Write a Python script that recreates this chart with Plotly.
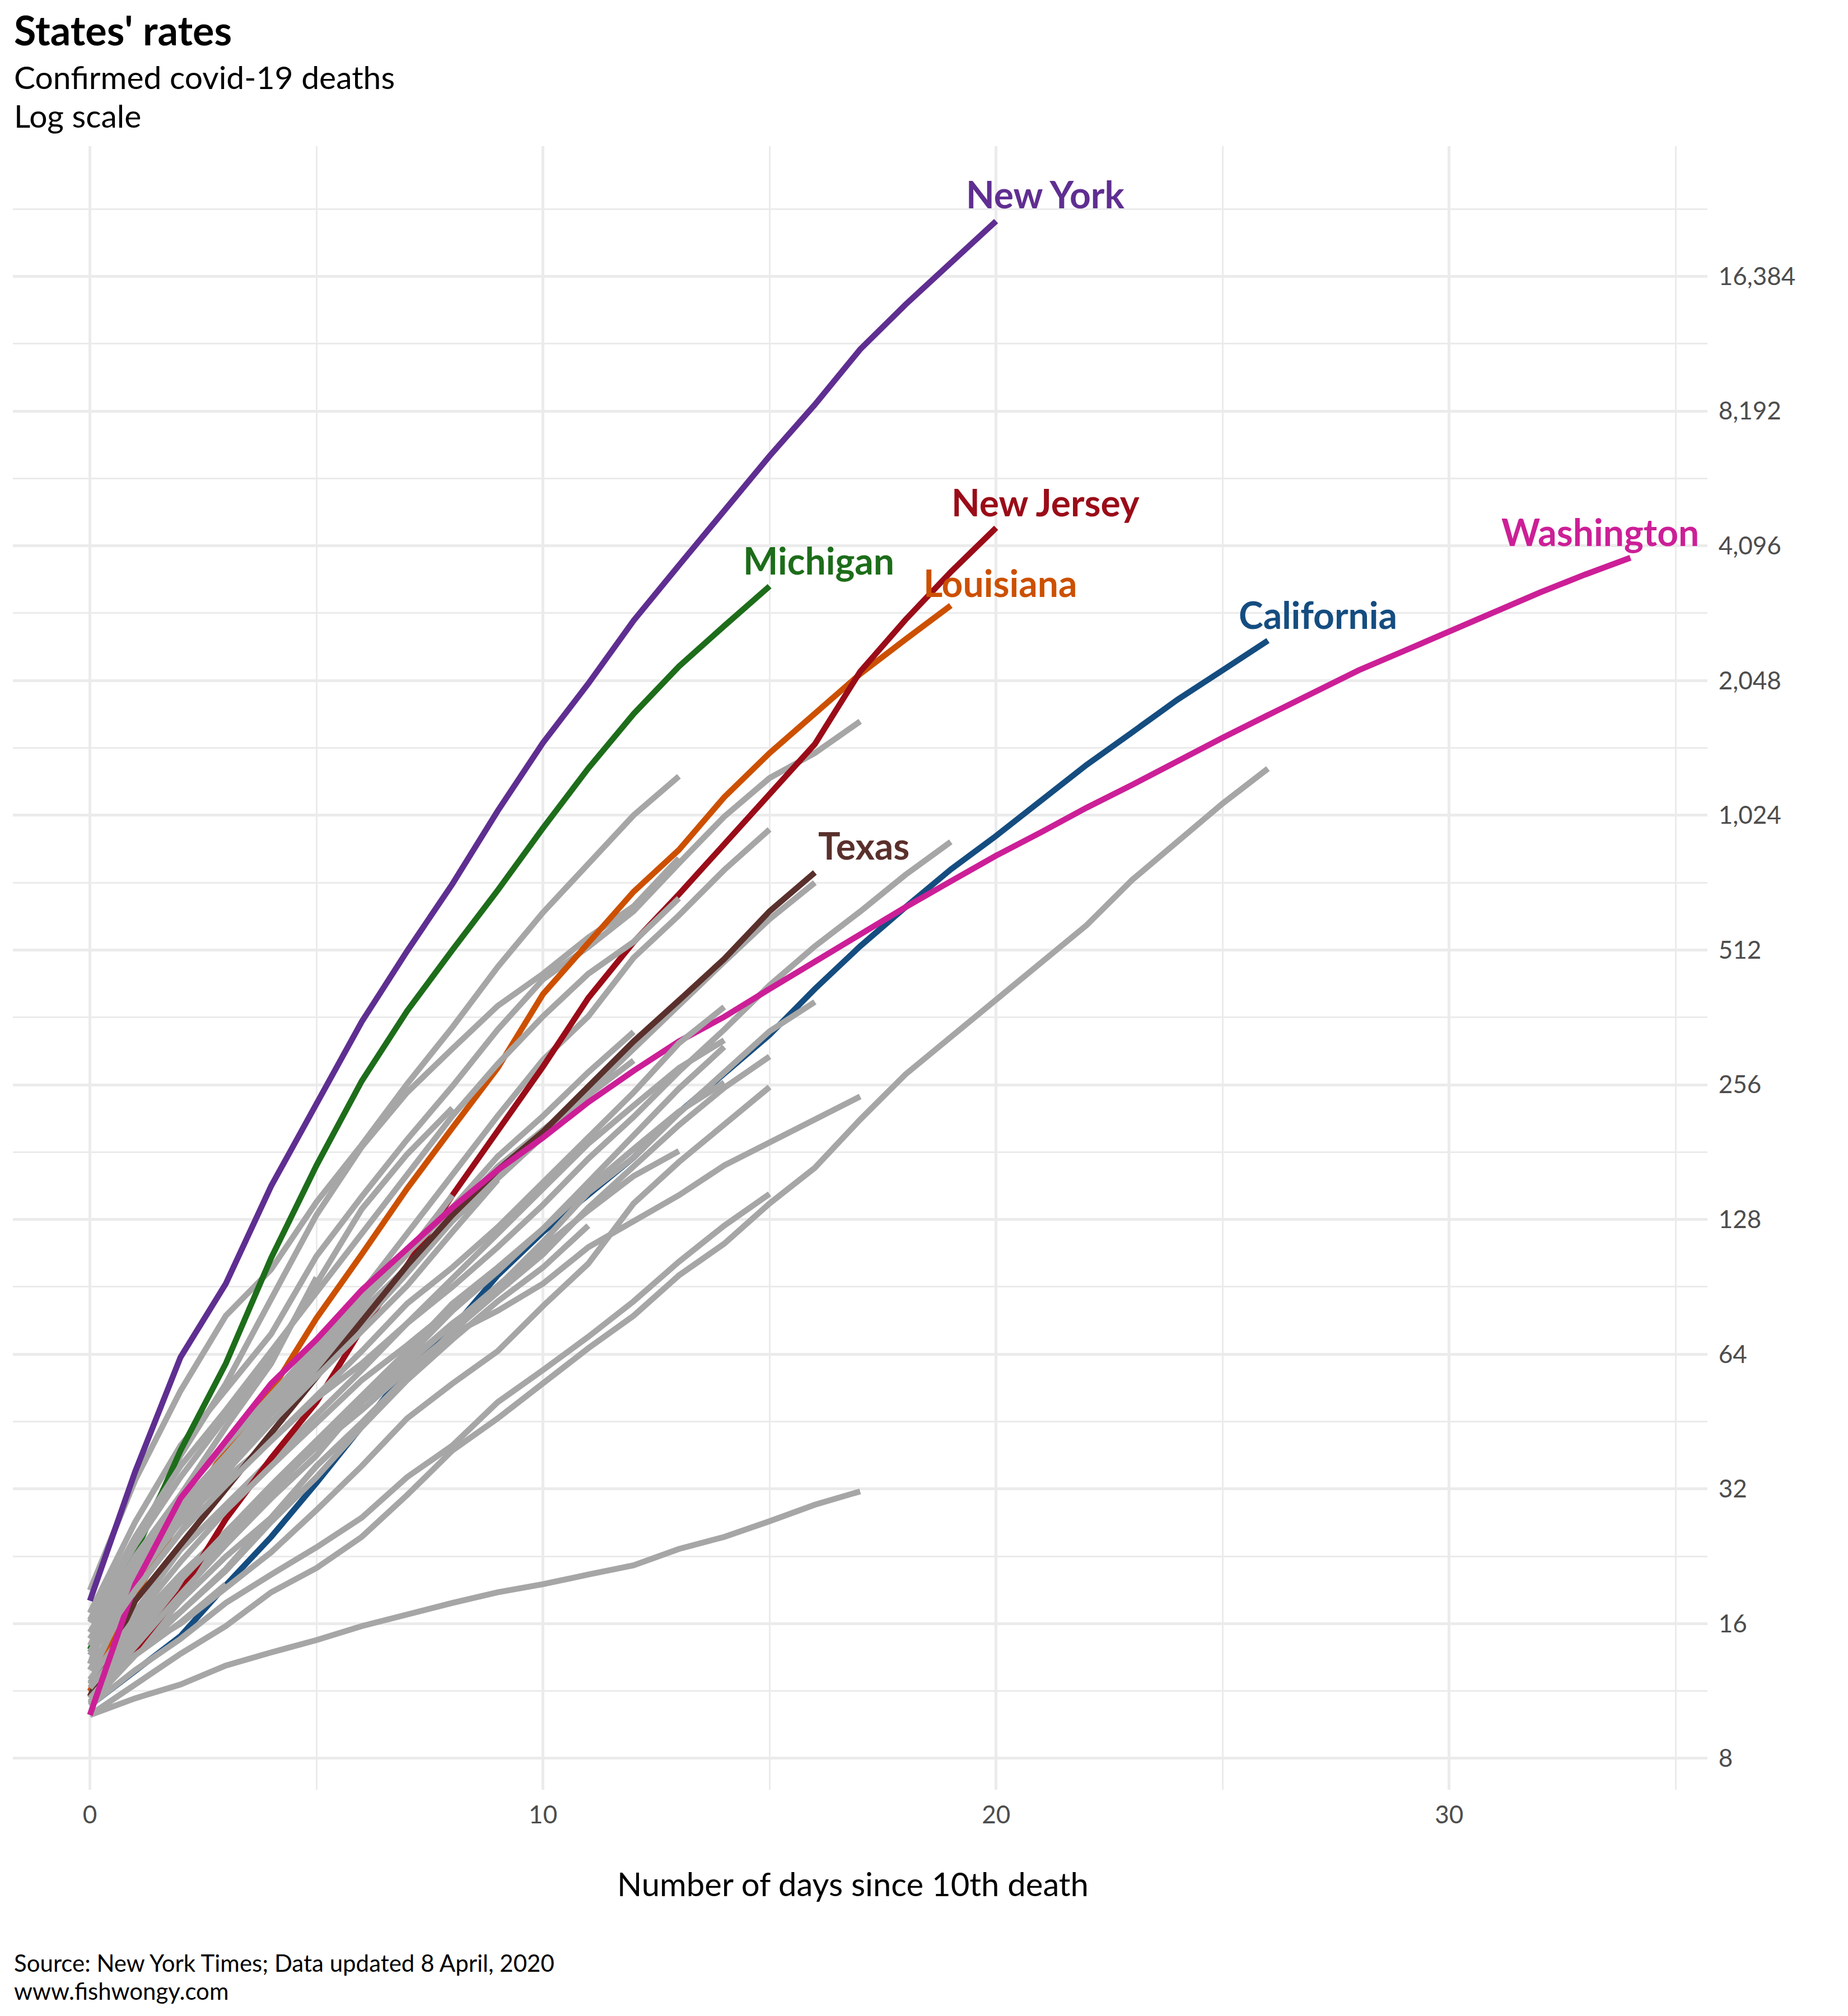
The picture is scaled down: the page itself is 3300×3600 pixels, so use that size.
import math
import plotly.graph_objects as go

# Deaths by day since the 10th death
california = [10.5, 12.5, 15, 19.5, 25, 33, 44, 59, 73, 96, 120, 145, 176, 222, 270, 331, 419, 522, 638, 775, 921, 1109, 1328, 1568, 1855, 2159, 2515]
louisiana = [11.3, 18.5, 27.6, 39, 53, 77, 107, 150, 205, 279, 408, 534, 691, 857, 1124, 1410, 1725, 2118, 2531, 3013]
michigan = [14, 23, 39, 61, 105, 169, 261, 374, 512, 696, 959, 1304, 1725, 2202, 2712, 3327]
new_jersey = [11, 14, 18.8, 27.4, 37.5, 50, 73, 101, 145, 201, 281, 400, 533, 682, 880, 1146, 1477, 2144, 2800, 3580, 4493]
new_york = [18, 35, 63, 92, 152, 233, 354, 509, 719, 1047, 1487, 2016, 2788, 3705, 4923, 6500, 8470, 11254, 14165, 17620, 21770]
texas = [11, 18, 24, 32, 42.6, 57, 76, 101, 131, 165, 201, 253, 320, 395, 489, 625, 763]
washington = [10, 19.6, 30.5, 41, 55, 69, 89, 110, 136, 165, 195, 234, 275, 320, 363, 419, 482, 557, 638, 729, 832, 939, 1065, 1197, 1356, 1526, 1714, 1917, 2159, 2384, 2640, 2915, 3221, 3533, 3852]

# The grey states are not labelled on the chart, so they just get letters
grey_a = [10.9, 15.3, 19.7, 25, 31.6, 40, 50, 61, 75, 91, 111, 134, 160, 182]
grey_b = [10.6, 13.6, 17, 21, 27, 34, 44, 56, 69, 84, 100, 124]
grey_c = [10, 11.7, 13.7, 15.8, 18.8, 21.3, 25, 31, 39, 46, 55, 66, 78, 96, 113, 139, 167, 214, 270, 327, 395, 479, 582, 734, 896, 1088, 1302]
grey_d = [10.5, 12.6, 14.8, 17.8, 20.6, 23.7, 27.6, 34, 40, 50, 59, 70, 84, 103, 124, 146]
grey_e = [10, 10.9, 11.7, 12.9, 13.8, 14.7, 15.8, 16.8, 17.8, 18.8, 19.6, 20.6, 21.6, 23.5, 25, 27.1, 29.5, 31.6]
grey_f = [11.7, 15.8, 20.6, 25.8, 32, 39.7, 48, 59, 71, 80, 92, 111, 127, 145, 169, 190, 214, 241]
grey_g = [11.2, 13.9, 16, 19.2, 23.1, 28.7, 36, 46, 55, 65, 82, 102, 139, 172, 209, 253]
grey_h = [11.3, 14.3, 17, 21.2, 27.6, 36, 45, 57, 72, 88, 107, 136, 168, 208, 252, 296]
grey_i = [10.6, 13.8, 18, 22.6, 27.6, 36, 45, 57, 72, 90.5, 114, 147, 176, 221, 272, 337, 392]
grey_j = [11.8, 16.1, 20.6, 25.6, 32.6, 41, 51.5, 65, 83, 100, 122, 151, 184, 223, 259]
grey_k = [11, 14.8, 19, 24, 30.5, 38, 50, 63, 80, 98, 122, 155, 198, 251, 311]
grey_l = [12.6, 17, 23.4, 29.5, 37, 47, 59, 75, 94, 119, 150, 189, 230, 279, 322]
grey_m = [13, 24, 38, 55, 85, 131, 186, 246, 308, 384, 453, 546, 641, 821]
grey_n = [16.9, 27, 40, 53, 71, 106, 144, 193, 254, 340, 440, 520, 625, 800, 1017, 1240, 1410, 1660]
grey_o = [19, 33.5, 53, 78, 99, 140, 188, 257, 344, 469, 621, 801, 1024, 1251]
grey_p = [12.6, 19, 25.6, 36, 48, 65, 88, 119, 162, 218, 291, 364, 492, 612, 773, 952]
grey_q = [16.1, 24, 34, 46, 63, 92, 135, 179, 227]
grey_r = [14.3, 22, 29.5, 38, 50, 65, 83, 107, 145]
grey_s = [16.3, 25, 36, 48, 65, 88, 119, 163, 218, 285, 364, 453, 534, 668]
grey_t = [15.3, 22.6, 31, 40, 51.5, 67, 85, 107, 136, 177, 218, 273, 336]
grey_u = [14.8, 21, 28.6, 37, 48, 61, 78, 100, 131, 168, 203, 243, 290]
grey_v = [13.8, 20.6, 27.6, 36, 47, 59, 75, 97, 127, 160, 198, 246]
grey_w = [15.3, 20.6, 27, 33.8, 41, 51, 61, 75, 90.5, 111, 138, 175, 217, 274, 340, 427, 522, 624, 754, 893]
grey_x = [14.8, 20.6, 28.6, 37, 48, 63, 80, 100, 127, 158, 196, 246, 308, 387, 482, 600, 724]
grey_y = [11.5, 15.3, 20, 25.6, 32.6, 41, 50, 61, 75, 89, 110]
grey_z = [12, 16.5, 22, 28.6, 36, 45, 56, 67, 81, 99]
grey_aa = [13.6, 20, 27, 35, 45, 57, 72, 91, 120, 157]
grey_ab = [10.7, 13.6, 16.1, 19.6]
grey_ac = [10.9, 14.3, 18.6, 24, 30.5, 38]
grey_ad = [13.8, 21, 31, 44, 61, 95]
grey_ae = [13.6, 19, 25.6, 32.6, 41, 51.5, 65, 83, 100, 123, 155, 195, 246, 317, 382]

GREY = "#A6A6A6"
GRID = "#EBEBEB"
TICK_TEXT = "#4D4D4D"
FONT = "Lato"

# Drawn in this order, so later lines sit on top
series = [
    (california, "#154D80"),
    (grey_a, GREY), (grey_b, GREY),
    (grey_c, GREY), (grey_d, GREY), (grey_e, GREY), (grey_f, GREY), (grey_g, GREY),
    (grey_h, GREY), (grey_i, GREY), (grey_j, GREY), (grey_k, GREY), (grey_l, GREY),
    (grey_m, GREY), (grey_n, GREY),
    (louisiana, "#CC5000"),
    (grey_o, GREY),
    (michigan, "#1D6D1A"),
    (grey_p, GREY),
    (new_jersey, "#9A0C18"),
    (new_york, "#5F2E91"),
    (grey_q, GREY), (grey_r, GREY), (grey_s, GREY), (grey_t, GREY), (grey_u, GREY),
    (grey_v, GREY), (grey_w, GREY), (grey_x, GREY),
    (texas, "#5A302C"),
    (grey_y, GREY), (grey_z, GREY), (grey_aa, GREY), (grey_ab, GREY), (grey_ac, GREY), (grey_ad, GREY),
    (washington, "#CC1F97"),
    (grey_ae, GREY),
]

# Label text, the series it belongs to, colour, and pixel offset from the line end
labels = [
    ("New York", new_york, "#5F2E91", 88, 48),
    ("New Jersey", new_jersey, "#9A0C18", 88, 46),
    ("Washington", washington, "#CC1F97", -54, 46),
    ("Michigan", michigan, "#1D6D1A", 88, 46),
    ("Louisiana", louisiana, "#CC5000", 88, 41),
    ("California", california, "#154D80", 89, 46),
    ("Texas", texas, "#5A302C", 87, 48),
]

y_ticks = [8, 16, 32, 64, 128, 256, 512, 1024, 2048, 4096, 8192, 16384]
y_tick_labels = ["8", "16", "32", "64", "128", "256", "512", "1,024", "2,048", "4,096", "8,192", "16,384"]
y_minor = [11.31, 22.63, 45.25, 90.51, 181, 362, 724, 1448, 2896, 5793, 11585, 23170]
x_ticks = [0, 10, 20, 30]
x_minor = [5, 15, 25, 35]

fig = go.Figure()
for values, colour in series:
    fig.add_trace(go.Scatter(x=list(range(len(values))), y=values, mode="lines",
                             line=dict(color=colour, width=10.5), hoverinfo="skip", showlegend=False))

for text, values, colour, dx, dy in labels:
    fig.add_annotation(x=len(values) - 1, y=math.log10(values[-1]), xref="x", yref="y", text="<b>%s</b>" % text,
                       showarrow=False, xshift=dx, yshift=dy, font=dict(family=FONT, size=66, color=colour))

# Plot box in page pixels; the browser adds an 8px body margin, so margins are 8 less
plot_left = 23
plot_right = 3049
plot_top = 261
plot_bottom = 3196
plot_width = plot_right - plot_left
plot_height = plot_bottom - plot_top


def paper_y(px):
    return 1 - (px - plot_top) / plot_height


text_block = [
    ("<b>States' rates</b>", 53, 72),
    ("Confirmed covid-19 deaths", 137, 57),
    ("Log scale", 206, 57),
    ("Source: New York Times; Data updated 8 April, 2020", 3505, 42),
    ("www.fishwongy.com", 3555, 42),
]
for text, y_px, size in text_block:
    fig.add_annotation(x=0, y=paper_y(y_px), xref="paper", yref="paper", xanchor="left", yanchor="middle",
                       text=text, showarrow=False, font=dict(family=FONT, size=size, color="black"))

fig.add_annotation(x=(1523 - plot_left) / plot_width, y=paper_y(3363), xref="paper", yref="paper", xanchor="center",
                   yanchor="middle", text="Number of days since 10th death", showarrow=False,
                   font=dict(family=FONT, size=58, color="black"))

fig.update_layout(
    width=3300, height=3600, autosize=False,
    margin=dict(l=plot_left - 8, r=3300 - plot_right + 8, t=plot_top - 8, b=3600 - plot_bottom + 8, pad=0),
    paper_bgcolor="white", plot_bgcolor="white",
    font=dict(family=FONT),
)
fig.update_xaxes(
    range=[-1.7, 35.7], tickmode="array", tickvals=x_ticks, ticktext=[str(v) for v in x_ticks],
    showgrid=True, gridcolor=GRID, gridwidth=4.5, zeroline=False, showline=False,
    ticks="outside", ticklen=6, tickcolor="rgba(0,0,0,0)",
    tickfont=dict(family=FONT, size=44, color=TICK_TEXT),
    minor=dict(tickmode="array", tickvals=x_minor, showgrid=True, gridcolor=GRID, gridwidth=3, ticks=""),
)
fig.update_yaxes(
    type="log", side="right", range=[0.8330, 4.5053], tickmode="array", tickvals=y_ticks, ticktext=y_tick_labels,
    showgrid=True, gridcolor=GRID, gridwidth=4.5, zeroline=False, showline=False,
    ticks="outside", ticklen=10, tickcolor="rgba(0,0,0,0)",
    tickfont=dict(family=FONT, size=44, color=TICK_TEXT),
    minor=dict(tickmode="array", tickvals=y_minor, showgrid=True, gridcolor=GRID, gridwidth=3, ticks=""),
)

fig.write_html("out.html")
